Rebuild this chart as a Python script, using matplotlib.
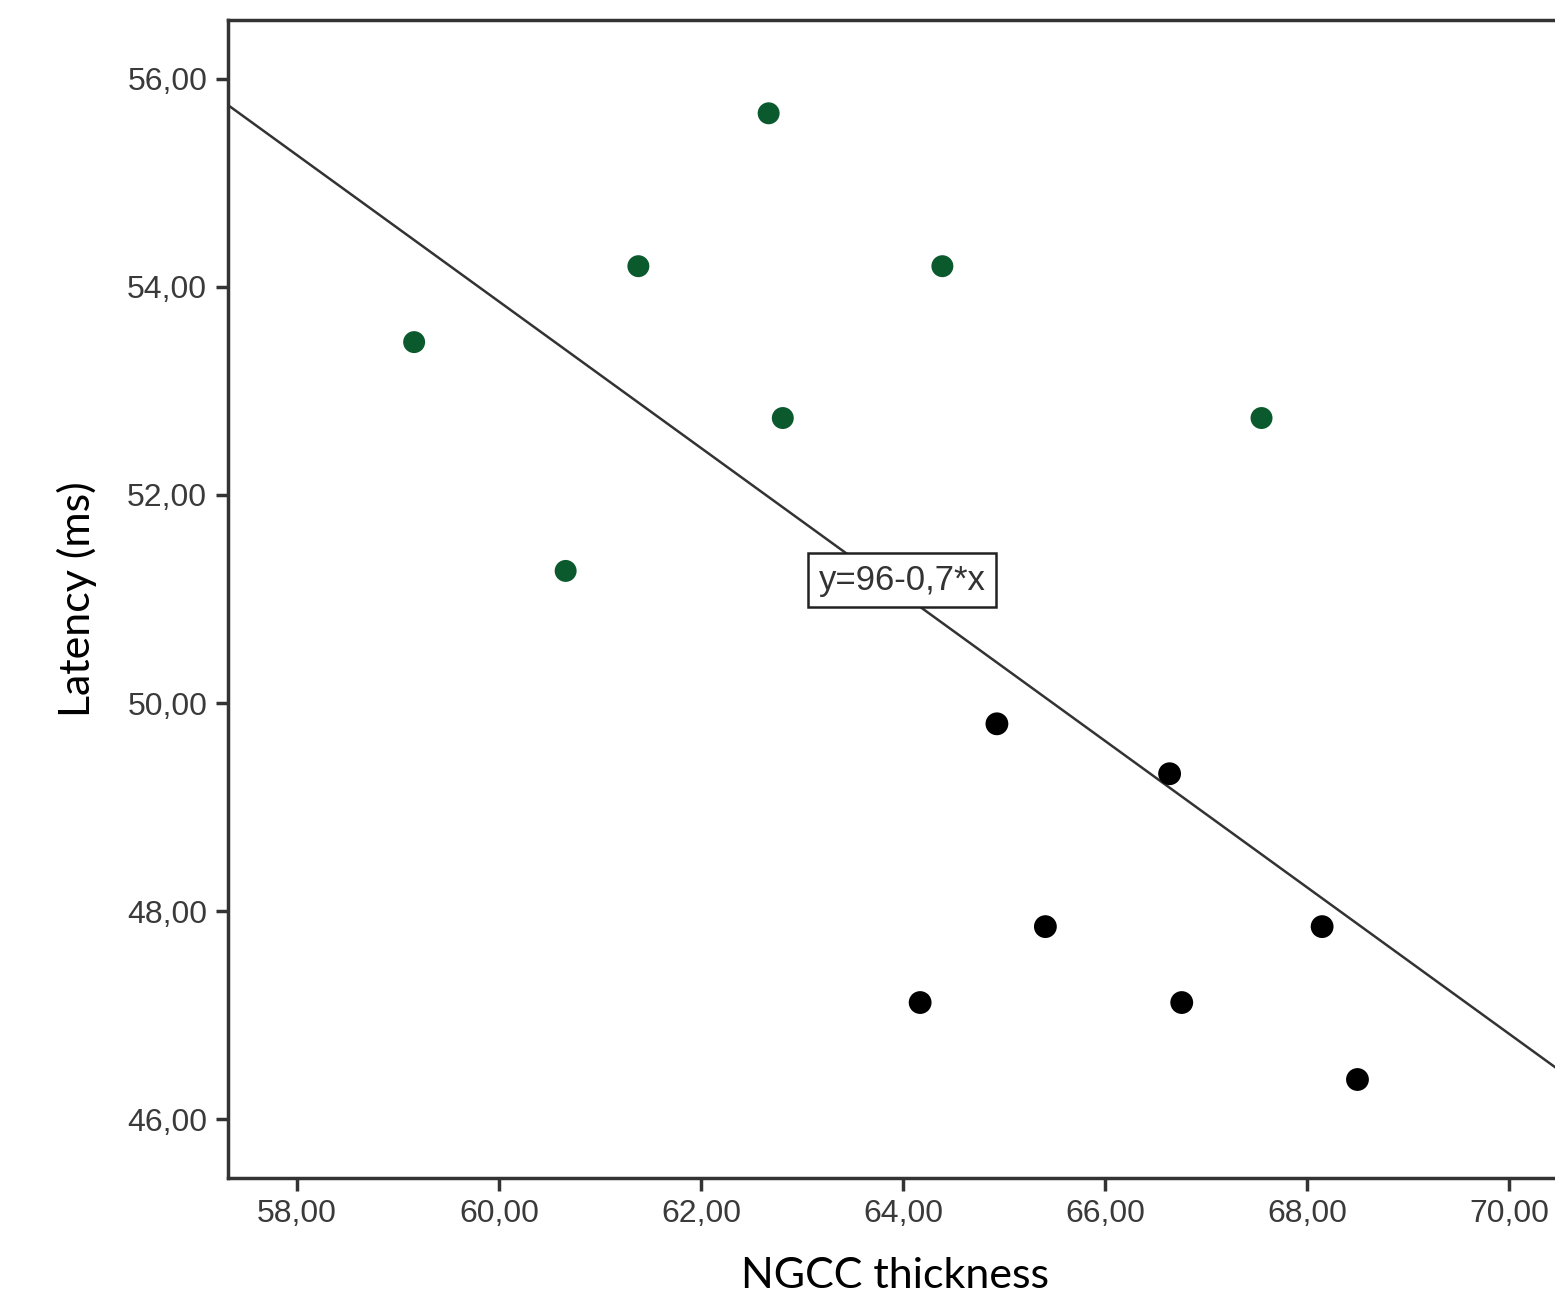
import matplotlib.pyplot as plt

# NGCC thickness vs latency, two groups
green_x = [59.16, 60.66, 61.38, 62.67, 62.81, 64.39, 67.55]
green_y = [53.47, 51.27, 54.20, 55.67, 52.74, 54.20, 52.74]
black_x = [64.93, 66.64, 65.41, 64.17, 66.76, 68.15, 68.50]
black_y = [49.80, 49.32, 47.85, 47.12, 47.12, 47.85, 46.38]

# fitted line  y = intercept + slope * x
intercept = 96.1
slope = -0.704
fit_label = "y=96-0,7*x"

xticks = [58, 60, 62, 64, 66, 68, 70]
yticks = [46, 48, 50, 52, 54, 56]

fig = plt.figure(figsize=(15.55, 13.01), dpi=100)
ax = fig.add_axes([228 / 1555, 1 - 1178 / 1301, (1562 - 228) / 1555, (1178 - 20) / 1301])

x0, x1 = 57.317, 70.525
ax.set_xlim(x0, x1)
ax.set_ylim(45.433, 56.567)

ax.plot([x0, x1], [intercept + slope * x0, intercept + slope * x1],
        color="#333333", lw=1.8, zorder=2)
ax.scatter(green_x, green_y, s=250, color="#0b5a2e", edgecolors="none", zorder=3)
ax.scatter(black_x, black_y, s=270, color="black", edgecolors="none", zorder=3)

ax.text(63.99, 51.18, fit_label, ha="center", va="center", fontsize=25,
        family="Liberation Sans", color="#333333",
        bbox=dict(boxstyle="square,pad=0.3", fc="white", ec="#222222", lw=1.8),
        zorder=4)

ax.set_xticks(xticks)
ax.set_xticklabels([f"{t:.2f}".replace(".", ",") for t in xticks])
ax.set_yticks(yticks)
ax.set_yticklabels([f"{t:.2f}".replace(".", ",") for t in yticks])
ax.tick_params(labelsize=23, labelcolor="#3a3a3a", color="#333333", width=2.5,
               length=9, pad=6)
for lab in ax.get_xticklabels() + ax.get_yticklabels():
    lab.set_family("Liberation Sans")

for side in ["left", "bottom", "top", "right"]:
    ax.spines[side].set_linewidth(2.5)
    ax.spines[side].set_color("#333333")

ax.set_xlabel("NGCC thickness", fontsize=31, family="Lato", labelpad=20)
ax.set_ylabel("Latency (ms)", fontsize=31, family="Lato", labelpad=22)

fig.savefig("out.png", dpi=100)
